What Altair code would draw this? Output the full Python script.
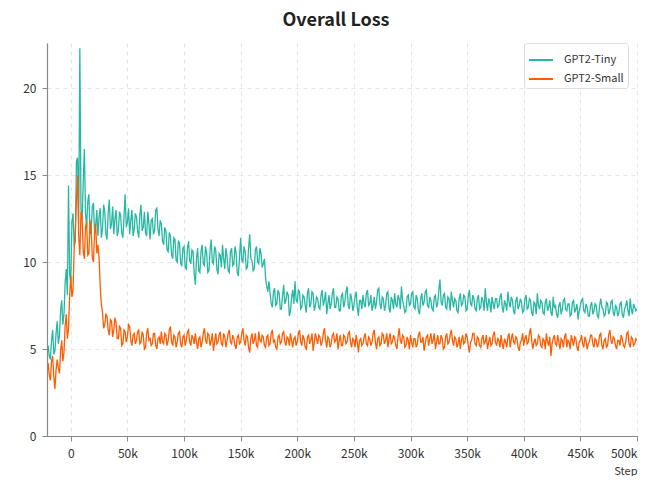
import altair as alt
import pandas as pd

FONT = "Noto Sans CJK SC"

step_start = -20000
step_stride = 1000

gpt2_tiny = [
    5.2, 4.6, 4.4, 5.5, 6.1, 4.7, 4.9, 5.9, 6.6, 5.3, 5.8, 7.2, 7.8, 6.4, 7.0, 8.8, 9.6, 8.1, 14.4, 9.3,
    8.8, 12.3, 12.8, 10.9, 11.2, 15.8, 16.0, 12.2, 22.3, 13.1, 12.4, 14.6, 16.5, 12.8, 12.0, 13.5, 13.9, 11.6, 11.8, 13.2,
    13.4, 11.7, 12.1, 13.0, 11.5, 12.6, 13.1, 11.4, 11.9, 13.3, 12.9, 11.6, 11.3, 12.8, 13.6, 11.9, 12.2, 13.2, 11.6, 12.5,
    13.0, 11.5, 11.8, 12.9, 12.7, 11.7, 11.4, 12.6, 13.9, 12.0, 12.3, 13.1, 11.6, 12.4, 13.0, 11.5, 11.9, 12.8, 12.6, 11.8,
    11.4, 12.7, 13.3, 11.8, 12.0, 12.9, 11.7, 11.5, 12.9, 12.2, 11.3, 12.4, 12.5, 11.6, 11.8, 13.0, 13.1, 11.9, 11.5, 12.4,
    12.2, 11.2, 11.0, 12.0, 11.8, 10.7, 10.6, 11.7, 11.5, 10.4, 10.2, 11.4, 11.3, 10.1, 10.0, 11.2, 11.1, 9.9, 9.8, 10.8,
    10.9, 9.7, 9.6, 10.8, 11.2, 10.1, 9.9, 10.7, 10.6, 9.3, 8.7, 10.2, 10.8, 9.5, 9.4, 10.6, 11.0, 9.9, 9.8, 10.9,
    10.5, 9.4, 9.5, 10.7, 11.3, 10.0, 9.9, 10.9, 10.7, 9.6, 9.3, 10.5, 10.4, 9.7, 11.0, 10.2, 9.6, 10.8, 10.3, 9.5,
    9.4, 10.6, 10.8, 9.8, 9.9, 10.9, 10.5, 9.4, 9.2, 10.3, 11.4, 10.1, 10.0, 10.9, 10.6, 9.6, 9.7, 10.8, 11.6, 10.2,
    10.1, 9.5, 9.6, 10.7, 10.9, 10.0, 9.9, 10.8, 10.5, 9.7, 9.9, 10.2, 9.1, 8.6, 8.3, 8.9, 8.2, 7.6, 7.4, 8.3,
    8.5, 7.5, 7.6, 8.4, 8.2, 7.3, 7.3, 8.1, 8.7, 7.6, 7.8, 8.3, 8.1, 6.9, 7.2, 8.0, 8.4, 7.6, 8.9, 7.8,
    7.7, 8.4, 8.3, 7.3, 7.4, 8.1, 8.0, 7.5, 7.1, 8.2, 8.5, 7.4, 7.6, 8.3, 8.2, 7.2, 7.5, 8.0, 7.9, 7.4,
    7.3, 8.1, 8.4, 7.5, 7.8, 8.3, 7.0, 7.6, 8.1, 7.3, 7.6, 8.2, 8.5, 7.4, 7.4, 8.0, 7.9, 7.2, 7.2, 8.1,
    8.2, 7.4, 7.7, 8.3, 8.6, 7.5, 7.3, 8.2, 7.9, 7.2, 7.5, 8.0, 8.3, 7.4, 6.9, 7.8, 7.8, 7.3, 8.1, 7.6,
    7.4, 8.2, 8.4, 7.5, 7.6, 8.1, 7.2, 7.5, 8.0, 7.3, 7.7, 8.4, 8.5, 7.6, 7.3, 8.0, 7.9, 7.2, 7.5, 8.2,
    8.3, 7.4, 7.1, 8.0, 7.8, 7.3, 8.2, 7.6, 7.4, 8.1, 7.9, 7.3, 8.6, 7.8, 7.5, 7.1, 7.2, 8.0, 8.1, 7.5,
    7.6, 8.2, 8.3, 7.4, 7.3, 8.1, 7.9, 7.2, 7.0, 7.9, 8.2, 7.5, 7.7, 8.3, 8.4, 7.5, 7.4, 8.0, 7.8, 7.3,
    7.2, 8.0, 8.1, 7.4, 7.6, 8.4, 9.0, 7.7, 7.5, 8.1, 8.2, 7.4, 7.3, 8.0, 7.9, 7.2, 8.3, 7.8, 7.4, 7.9,
    7.8, 7.2, 7.1, 7.9, 8.2, 7.5, 7.6, 8.1, 8.0, 7.2, 7.3, 8.0, 8.4, 7.6, 7.5, 8.1, 7.9, 7.3, 7.2, 7.9,
    8.1, 7.3, 7.4, 8.0, 7.8, 7.2, 8.5, 7.7, 7.2, 7.9, 7.7, 7.1, 8.0, 7.6, 7.3, 7.9, 7.9, 7.4, 7.5, 8.0,
    8.2, 7.4, 7.1, 7.8, 7.6, 7.2, 8.3, 7.7, 7.4, 8.0, 7.8, 7.2, 7.0, 7.8, 8.0, 7.3, 7.5, 7.9, 7.7, 7.1,
    7.2, 7.9, 8.1, 7.3, 7.4, 7.9, 7.8, 7.1, 6.9, 7.7, 7.6, 7.0, 8.2, 7.5, 7.3, 7.8, 7.7, 7.1, 7.0, 7.7,
    7.9, 7.2, 7.4, 7.8, 7.1, 6.9, 8.0, 7.4, 7.5, 7.0, 6.8, 7.5, 7.7, 7.0, 7.3, 7.8, 7.9, 7.3, 7.2, 7.6,
    7.6, 6.9, 7.0, 7.7, 7.8, 7.1, 7.3, 7.6, 6.7, 7.2, 7.5, 7.8, 7.9, 7.2, 7.1, 7.6, 7.4, 6.9, 6.9, 7.5,
    7.7, 7.0, 7.2, 7.6, 7.5, 6.9, 6.8, 7.5, 7.9, 7.4, 7.3, 6.9, 7.0, 7.7, 7.6, 7.0, 7.2, 7.7, 7.8, 7.1,
    6.9, 7.5, 7.4, 6.9, 7.1, 7.6, 7.7, 7.0, 6.8, 7.3, 7.5, 7.8, 7.2, 6.9, 7.9, 7.3, 7.0, 7.6, 7.4, 7.2, 7.3,
]

gpt2_small = [
    4.2, 3.5, 3.2, 4.3, 4.6, 3.4, 2.7, 3.8, 4.4, 3.9, 3.6, 4.9, 5.5, 4.3, 4.8, 6.3, 7.0, 5.6, 6.2, 8.1,
    9.2, 8.0, 8.4, 10.8, 11.8, 13.6, 15.0, 11.5, 10.4, 12.9, 12.6, 10.6, 10.2, 12.0, 12.3, 10.4, 10.5, 12.4, 11.9, 10.3,
    10.0, 11.6, 12.2, 10.5, 11.0, 10.2, 8.6, 7.6, 7.1, 6.2, 6.4, 7.0, 6.9, 6.1, 5.8, 6.7, 6.6, 5.7, 6.1, 6.8,
    6.5, 5.6, 5.6, 6.3, 6.2, 5.2, 5.3, 6.1, 6.0, 5.4, 5.7, 6.4, 6.3, 5.5, 5.2, 5.8, 5.9, 5.3, 5.5, 6.0,
    6.1, 5.3, 5.4, 6.0, 5.8, 5.0, 5.1, 5.9, 6.2, 5.5, 5.6, 5.2, 5.3, 5.9, 5.9, 5.2, 5.0, 5.6, 5.7, 5.3,
    6.0, 5.4, 5.3, 5.9, 5.8, 5.2, 5.5, 6.1, 6.3, 5.4, 5.2, 5.8, 5.7, 5.1, 5.4, 5.9, 6.0, 5.3, 5.1, 5.7,
    5.8, 5.2, 5.5, 6.0, 6.1, 5.4, 5.2, 5.8, 5.6, 5.3, 5.9, 5.4, 5.0, 5.6, 5.7, 5.1, 5.4, 5.9, 6.2, 5.5,
    5.3, 5.9, 5.8, 5.2, 5.5, 5.9, 4.9, 5.4, 5.9, 5.3, 5.4, 5.8, 6.0, 5.3, 5.2, 5.9, 5.7, 5.1, 5.5, 5.9,
    6.1, 5.4, 5.3, 5.8, 5.6, 5.2, 5.0, 5.7, 5.8, 5.3, 5.4, 5.9, 6.2, 5.5, 5.2, 5.8, 5.7, 5.1, 4.8, 5.6,
    5.9, 5.3, 5.5, 5.9, 5.2, 5.1, 6.0, 5.5, 5.4, 5.8, 5.7, 5.2, 5.1, 5.7, 5.8, 5.2, 5.3, 5.9, 6.1, 5.4,
    5.5, 5.1, 5.0, 5.7, 5.8, 5.3, 5.4, 5.9, 6.0, 5.4, 5.2, 5.7, 5.6, 5.2, 5.9, 5.5, 5.1, 5.6, 5.7, 5.2,
    5.4, 5.9, 6.1, 5.4, 5.2, 5.8, 5.6, 5.1, 5.0, 5.7, 5.8, 5.3, 5.5, 5.9, 4.9, 5.4, 5.9, 5.6, 5.3, 5.8,
    5.7, 5.2, 5.4, 5.9, 6.2, 5.5, 5.1, 5.7, 5.6, 5.1, 5.3, 5.8, 5.9, 5.4, 5.5, 5.9, 5.0, 5.5, 5.8, 5.2,
    5.2, 5.8, 5.7, 5.3, 5.4, 5.9, 6.0, 5.4, 5.1, 5.6, 5.5, 5.1, 5.8, 5.4, 4.8, 5.5, 5.6, 5.2, 5.3, 5.7,
    5.9, 5.3, 5.2, 5.7, 5.6, 5.2, 5.4, 5.9, 6.1, 5.4, 5.0, 5.6, 5.7, 5.2, 5.3, 5.9, 5.8, 5.3, 5.5, 5.9,
    5.1, 5.6, 5.9, 5.3, 5.4, 5.8, 5.6, 5.2, 5.0, 5.7, 6.2, 5.5, 5.3, 5.8, 5.7, 5.1, 5.2, 5.7, 5.5, 5.0,
    5.8, 5.4, 5.1, 5.6, 5.6, 5.1, 5.3, 5.8, 6.0, 5.4, 5.4, 5.7, 4.9, 5.3, 5.7, 5.8, 5.2, 5.6, 5.9, 5.3,
    5.5, 5.9, 5.0, 5.4, 5.8, 5.3, 5.3, 5.8, 5.6, 5.0, 5.1, 5.7, 5.9, 5.3, 5.4, 5.8, 6.1, 5.5, 5.2, 5.7,
    5.6, 5.1, 5.3, 5.7, 5.0, 5.5, 5.8, 5.3, 5.4, 5.9, 5.7, 5.2, 4.8, 5.4, 5.5, 5.9, 5.9, 5.3, 5.2, 5.7,
    5.6, 5.2, 5.1, 5.6, 5.8, 5.3, 5.4, 5.8, 5.0, 5.4, 5.7, 5.2, 5.3, 5.8, 6.0, 5.4, 5.2, 5.6, 5.5, 5.1,
    5.8, 5.3, 5.0, 5.6, 5.4, 5.1, 5.7, 5.9, 5.1, 5.6, 5.9, 5.4, 5.3, 5.7, 5.6, 5.1, 4.9, 5.4, 5.5, 5.9,
    5.2, 5.6, 5.8, 5.3, 5.4, 5.9, 6.2, 5.5, 5.0, 5.4, 5.6, 5.2, 5.3, 5.8, 5.7, 5.2, 5.1, 5.6, 5.5, 5.0,
    5.9, 5.4, 5.2, 5.7, 4.6, 5.3, 5.6, 5.8, 5.3, 5.2, 5.8, 5.4, 5.0, 5.6, 5.5, 5.1, 5.7, 5.9, 5.1, 5.5,
    5.4, 5.0, 5.8, 5.5, 5.2, 5.7, 5.6, 5.1, 4.9, 5.4, 5.5, 5.8, 5.3, 5.1, 5.7, 5.5, 5.0, 5.3, 5.4, 5.8,
    5.8, 5.3, 5.1, 5.6, 5.5, 5.1, 5.3, 5.8, 5.9, 5.2, 5.0, 5.5, 5.6, 5.1, 5.2, 5.8, 6.1, 5.5, 5.3, 5.7,
    5.6, 5.2, 5.0, 5.5, 5.5, 5.2, 5.8, 5.6, 5.2, 5.1, 5.4, 5.9, 6.0, 5.3, 5.1, 5.7, 5.6, 5.2, 5.3, 5.6, 5.5,
]

series_names = ["GPT2-Tiny", "GPT2-Small"]
series_colors = ["#27b8a3", "#ff5c00"]
x_ticks = [0, 50000, 100000, 150000, 200000, 250000, 300000, 350000, 400000, 450000, 500000]
y_ticks = [0, 5, 10, 15, 20]

rows = []
for name, values in zip(series_names, [gpt2_tiny, gpt2_small]):
    for i, v in enumerate(values):
        rows.append({"step": step_start + step_stride * i, "loss": v, "model": name})
df = pd.DataFrame(rows)

chart = alt.Chart(df).mark_line(strokeWidth=1.3, clip=True).encode(
    x=alt.X("step:Q",
            scale=alt.Scale(domain=[-21000, 500000], nice=False, zero=False),
            axis=alt.Axis(title="Step", values=x_ticks,
                          labelExpr="datum.value == 0 ? '0' : (datum.value / 1000) + 'k'",
                          titleAnchor="end", titleAlign="right", titleFontWeight="normal",
                          titleFontSize=11, titlePadding=6, labelPadding=7)),
    y=alt.Y("loss:Q",
            scale=alt.Scale(domain=[0, 22.6], nice=False),
            axis=alt.Axis(title=None, values=y_ticks, labelPadding=6)),
    color=alt.Color("model:N",
                    scale=alt.Scale(domain=series_names, range=series_colors),
                    legend=alt.Legend(title=None, orient="none", legendX=477, legendY=0,
                                      symbolType="M-1,0L1,0", symbolSize=576,
                                      symbolStrokeWidth=2, labelFontSize=11,
                                      labelOffset=10, rowPadding=1, padding=4,
                                      fillColor="white", strokeColor="#dddddd",
                                      cornerRadius=3, labelFont=FONT, labelColor="#333")),
).properties(
    width=590,
    height=393,
    title=alt.TitleParams("Overall Loss", fontSize=18, fontWeight="bold", font=FONT,
                          color="#222", anchor="middle", offset=13, dx=-6),
    padding={"left": 39, "top": 35, "right": 2, "bottom": 40},
    autosize=alt.AutoSizeParams(type="none"),
).configure_view(
    stroke=None
).configure_axis(
    labelFont=FONT, titleFont=FONT, labelFontSize=12, labelColor="#333",
    titleColor="#333", domainColor="#888", domainWidth=1.2, tickColor="#888",
    tickSize=5, gridColor="#e6e6e6", gridDash=[4, 4], gridWidth=1,
)

chart.save("out.html", embed_options={"renderer": "svg", "actions": False})
